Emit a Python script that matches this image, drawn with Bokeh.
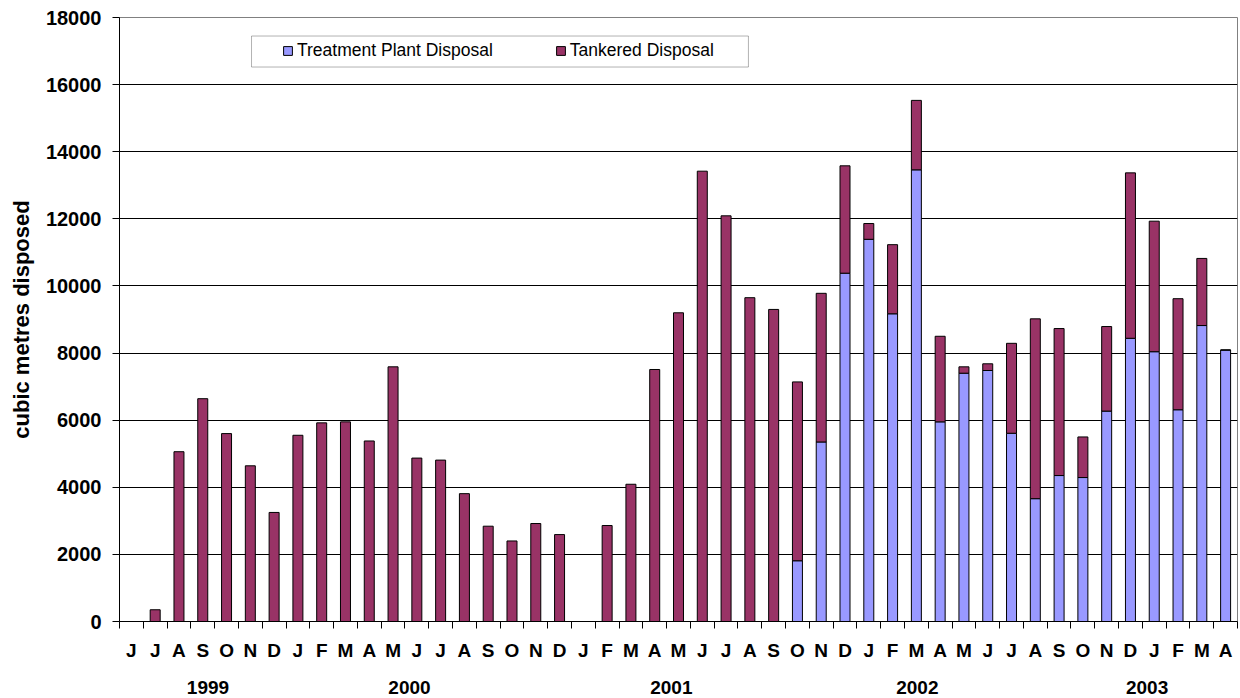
from bokeh.plotting import figure
from bokeh.models import (ColumnDataSource, Range1d, FixedTicker, Legend,
                          LegendItem, BoxAnnotation, LinearAxis)
from bokeh.embed import file_html
from bokeh.resources import INLINE

# Monthly disposal volumes, June 1999 to April 2003 (cubic metres)
months = ["J", "J", "A", "S", "O", "N", "D",
          "J", "F", "M", "A", "M", "J", "J", "A", "S", "O", "N", "D",
          "J", "F", "M", "A", "M", "J", "J", "A", "S", "O", "N", "D",
          "J", "F", "M", "A", "M", "J", "J", "A", "S", "O", "N", "D",
          "J", "F", "M", "A"]

treatment = [0, 0, 0, 0, 0, 0, 0,
             0, 0, 0, 0, 0, 0, 0, 0, 0, 0, 0, 0,
             0, 0, 0, 0, 0, 0, 0, 0, 0, 1810, 5350, 10380,
             11390, 9170, 13460, 5950, 7400, 7480, 5610, 3660, 4350, 4290, 6270, 8440,
             8040, 6310, 8820, 8090]

tankered = [0, 350, 5060, 6640, 5600, 4640, 3250,
            5550, 5920, 5950, 5380, 7590, 4870, 4810, 3810, 2840, 2400, 2920, 2590,
            0, 2860, 4090, 7510, 9200, 13420, 12090, 9650, 9300, 5330, 4430, 3200,
            470, 2060, 2070, 2550, 190, 200, 2680, 5360, 4380, 1210, 2520, 4930,
            3890, 3310, 2000, 0]

years = ["1999", "2000", "2001", "2002", "2003"]
y_ticks = [0, 2000, 4000, 6000, 8000, 10000, 12000, 14000, 16000, 18000]

# layout helper: where the year captions sit along the category axis
year_label_x = [3.22, 11.69, 22.7, 33.04, 42.7]

FONT = "Liberation Sans"
BLUE = "#9999FF"
MAROON = "#993366"

x = list(range(len(months)))
src = ColumnDataSource(dict(x=x, treatment=treatment, tankered=tankered))

p = figure(width=1240, height=698, output_backend="svg", toolbar_location=None,
           x_range=Range1d(-0.5, len(months) - 0.5), y_range=Range1d(0, 18000),
           min_border_left=119, min_border_right=3, min_border_top=17,
           min_border_bottom=77)
p.background_fill_color = "white"
p.border_fill_color = "white"
p.outline_line_color = "#808080"
p.outline_line_width = 1

renderers = p.vbar_stack(["treatment", "tankered"], x="x", width=0.42, source=src,
                         fill_color=[BLUE, MAROON], line_color="black", line_width=1)

# x axis: month initials centred on each category, ticks between categories
p.xaxis.ticker = FixedTicker(ticks=x, minor_ticks=[i - 0.5 for i in range(len(months) + 1)])
p.xaxis.major_label_overrides = {i: m for i, m in enumerate(months)}
p.xaxis.major_tick_out = 0
p.xaxis.major_tick_in = 0
p.xaxis.minor_tick_out = 7
p.xaxis.minor_tick_in = 0
p.xaxis.minor_tick_line_color = "black"
p.xaxis.axis_line_color = "black"
p.xaxis.major_label_standoff = 11
p.xaxis.major_label_text_font = FONT
p.xaxis.major_label_text_font_style = "bold"
p.xaxis.major_label_text_font_size = "19px"
p.xaxis.major_label_text_color = "black"

# second row of the category axis: the years
year_axis = LinearAxis(ticker=FixedTicker(ticks=year_label_x),
                       major_label_overrides={v: yr for v, yr in zip(year_label_x, years)},
                       axis_line_color=None, major_tick_line_color=None,
                       minor_tick_line_color=None, major_tick_out=0, major_tick_in=0,
                       major_label_standoff=17,
                       major_label_text_font=FONT, major_label_text_font_style="bold",
                       major_label_text_font_size="19px", major_label_text_color="black")
p.add_layout(year_axis, "below")

# y axis
p.yaxis.ticker = FixedTicker(ticks=y_ticks)
p.yaxis.minor_tick_line_color = None
p.yaxis.major_tick_out = 7
p.yaxis.major_tick_in = 0
p.yaxis.major_tick_line_color = "black"
p.yaxis.axis_line_color = "black"
p.yaxis.major_label_standoff = 11
p.yaxis.major_label_text_font = FONT
p.yaxis.major_label_text_font_style = "bold"
p.yaxis.major_label_text_font_size = "20px"
p.yaxis.major_label_text_color = "black"
p.yaxis.axis_label = "cubic metres disposed"
p.yaxis.axis_label_text_font = FONT
p.yaxis.axis_label_text_font_style = "bold"
p.yaxis.axis_label_text_font_size = "22px"
p.yaxis.axis_label_text_color = "black"
p.yaxis.axis_label_standoff = 9

p.xgrid.grid_line_color = None
p.ygrid.grid_line_color = "black"
p.ygrid.grid_line_width = 1

# legend frame and entries
p.add_layout(BoxAnnotation(left=5.05, right=25.94, top=17448, bottom=16524,
                           fill_color="white", fill_alpha=1.0,
                           line_color="black", line_width=1))

legend = Legend(items=[LegendItem(label="Treatment Plant Disposal", renderers=[renderers[0]]),
                       LegendItem(label="Tankered Disposal", renderers=[renderers[1]])],
                orientation="horizontal", location=(161, 558), margin=0, padding=2,
                spacing=62, label_standoff=4, glyph_width=11, glyph_height=11,
                border_line_alpha=0, background_fill_alpha=0,
                label_text_font=FONT, label_text_font_size="17.5px",
                label_text_color="black")
p.add_layout(legend)

open("out.html", "w").write(file_html(p, INLINE))
